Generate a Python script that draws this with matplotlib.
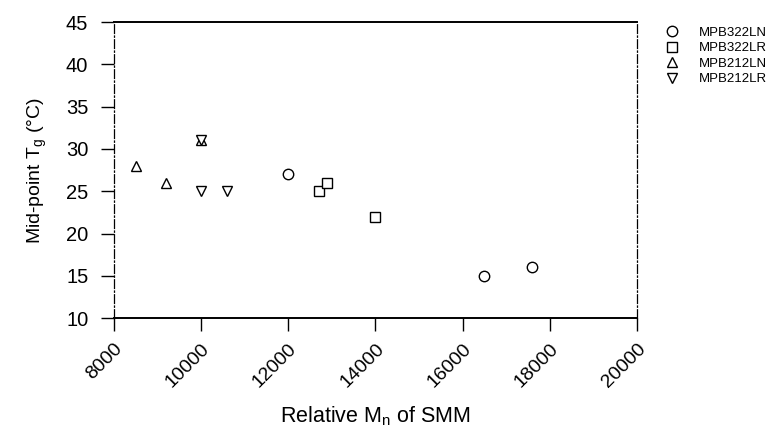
import matplotlib
matplotlib.use('Agg')
import matplotlib.pyplot as plt

plt.rcParams['font.family'] = ['Liberation Sans', 'DejaVu Sans']

# data
ln322_x = [12000, 16500, 17600]
ln322_y = [27, 15, 16]
lr322_x = [12700, 12900, 14000]
lr322_y = [25, 26, 22]
ln212_x = [8500, 9200, 10000]
ln212_y = [28, 26, 31]
lr212_x = [10000, 10600, 10000]
lr212_y = [25, 25, 31]

series = [
    ('MPB322LN', ln322_x, ln322_y, 'o'),
    ('MPB322LR', lr322_x, lr322_y, 's'),
    ('MPB212LN', ln212_x, ln212_y, '^'),
    ('MPB212LR', lr212_x, lr212_y, 'v'),
]
xticks = [8000, 10000, 12000, 14000, 16000, 18000, 20000]
yticks = [10, 15, 20, 25, 30, 35, 40, 45]

fig = plt.figure(figsize=(7.78, 4.40), dpi=100)
ax = fig.add_axes([0.1465, 0.277, 0.672, 0.673])

for name, xs, ys, m in series:
    ax.plot(xs, ys, linestyle='none', marker=m, markersize=7.5,
            markerfacecolor='white', markeredgecolor='black',
            markeredgewidth=1.0, label=name)

ax.set_xlim(8000, 20000)
ax.set_ylim(10, 45)
ax.set_xticks(xticks)
ax.set_yticks(yticks)
ax.set_xticklabels([str(v) for v in xticks], rotation=45, ha='right',
                   rotation_mode='anchor')
ax.tick_params(axis='both', direction='out', length=9.5, width=1,
               colors='black')
ax.tick_params(axis='x', pad=6.5, labelsize=14)
ax.tick_params(axis='y', pad=9, labelsize=14.5)

for s in ['left', 'right']:
    ax.spines[s].set_linestyle((0, (7, 2, 1, 2)))
    ax.spines[s].set_linewidth(0.9)
for s in ['top', 'bottom']:
    ax.spines[s].set_linewidth(1.4)

ax.set_xlabel('Relative M$_\\mathregular{n}$ of SMM', fontsize=15.5, labelpad=10)
ax.set_ylabel('Mid-point T$_\\mathregular{g}$ (\u00b0C)', fontsize=14, labelpad=12)

fig.legend(loc='upper left', bbox_to_anchor=(0.84, 0.952), frameon=False,
           fontsize=9.5, handletextpad=1.05, labelspacing=0.25,
           markerscale=1.0, borderaxespad=0)

fig.savefig('out.png', dpi=100)
